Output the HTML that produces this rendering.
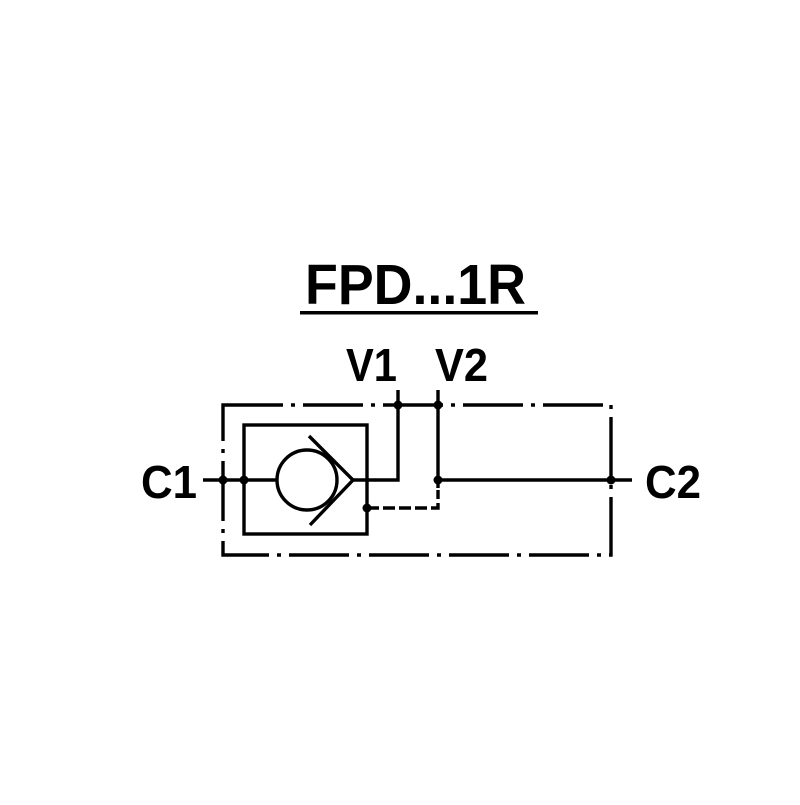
<!DOCTYPE html>
<html><head><style>body{margin:0;background:#fff}</style></head><body>
<svg width="800" height="800" viewBox="0 0 800 800" xmlns="http://www.w3.org/2000/svg" font-family="Liberation Sans, sans-serif" font-weight="bold">
<rect width="800" height="800" fill="#fff"/>
<text x="305" y="304" font-size="57" textLength="221" lengthAdjust="spacingAndGlyphs">FPD...1R</text>
<rect x="300" y="311" width="238" height="3.5" fill="#000"/>
<text x="346" y="381" font-size="46" textLength="51" lengthAdjust="spacingAndGlyphs">V1</text>
<text x="435" y="381" font-size="46" textLength="53" lengthAdjust="spacingAndGlyphs">V2</text>
<text x="141" y="498" font-size="46" textLength="56" lengthAdjust="spacingAndGlyphs">C1</text>
<text x="645" y="498" font-size="46" textLength="56" lengthAdjust="spacingAndGlyphs">C2</text>
<g fill="none" stroke="#000" stroke-width="3.4">
<path d="M223 405 H611 V555 H223 Z" stroke-dasharray="60 8 4 8"/>
<rect x="244" y="425" width="123" height="109"/>
<circle cx="307" cy="480" r="30"/>
<path d="M309 436 L353 480 L310 525"/>
<path d="M203 480 H277"/>
<path d="M353 480 H398 V390"/>
<path d="M438 390 V488"/>
<path d="M438 480 H632"/>
<path d="M367 508 H438 V490" stroke-dasharray="12 4"/>
</g>
<g fill="#000">
<circle cx="223" cy="480" r="4.5"/><circle cx="244" cy="480" r="4.5"/>
<circle cx="398" cy="405" r="4.5"/><circle cx="438" cy="405" r="4.5"/>
<circle cx="438" cy="480" r="4.5"/><circle cx="367" cy="508" r="4.5"/>
<circle cx="611" cy="480" r="4.5"/>
</g>
</svg>
</body></html>
